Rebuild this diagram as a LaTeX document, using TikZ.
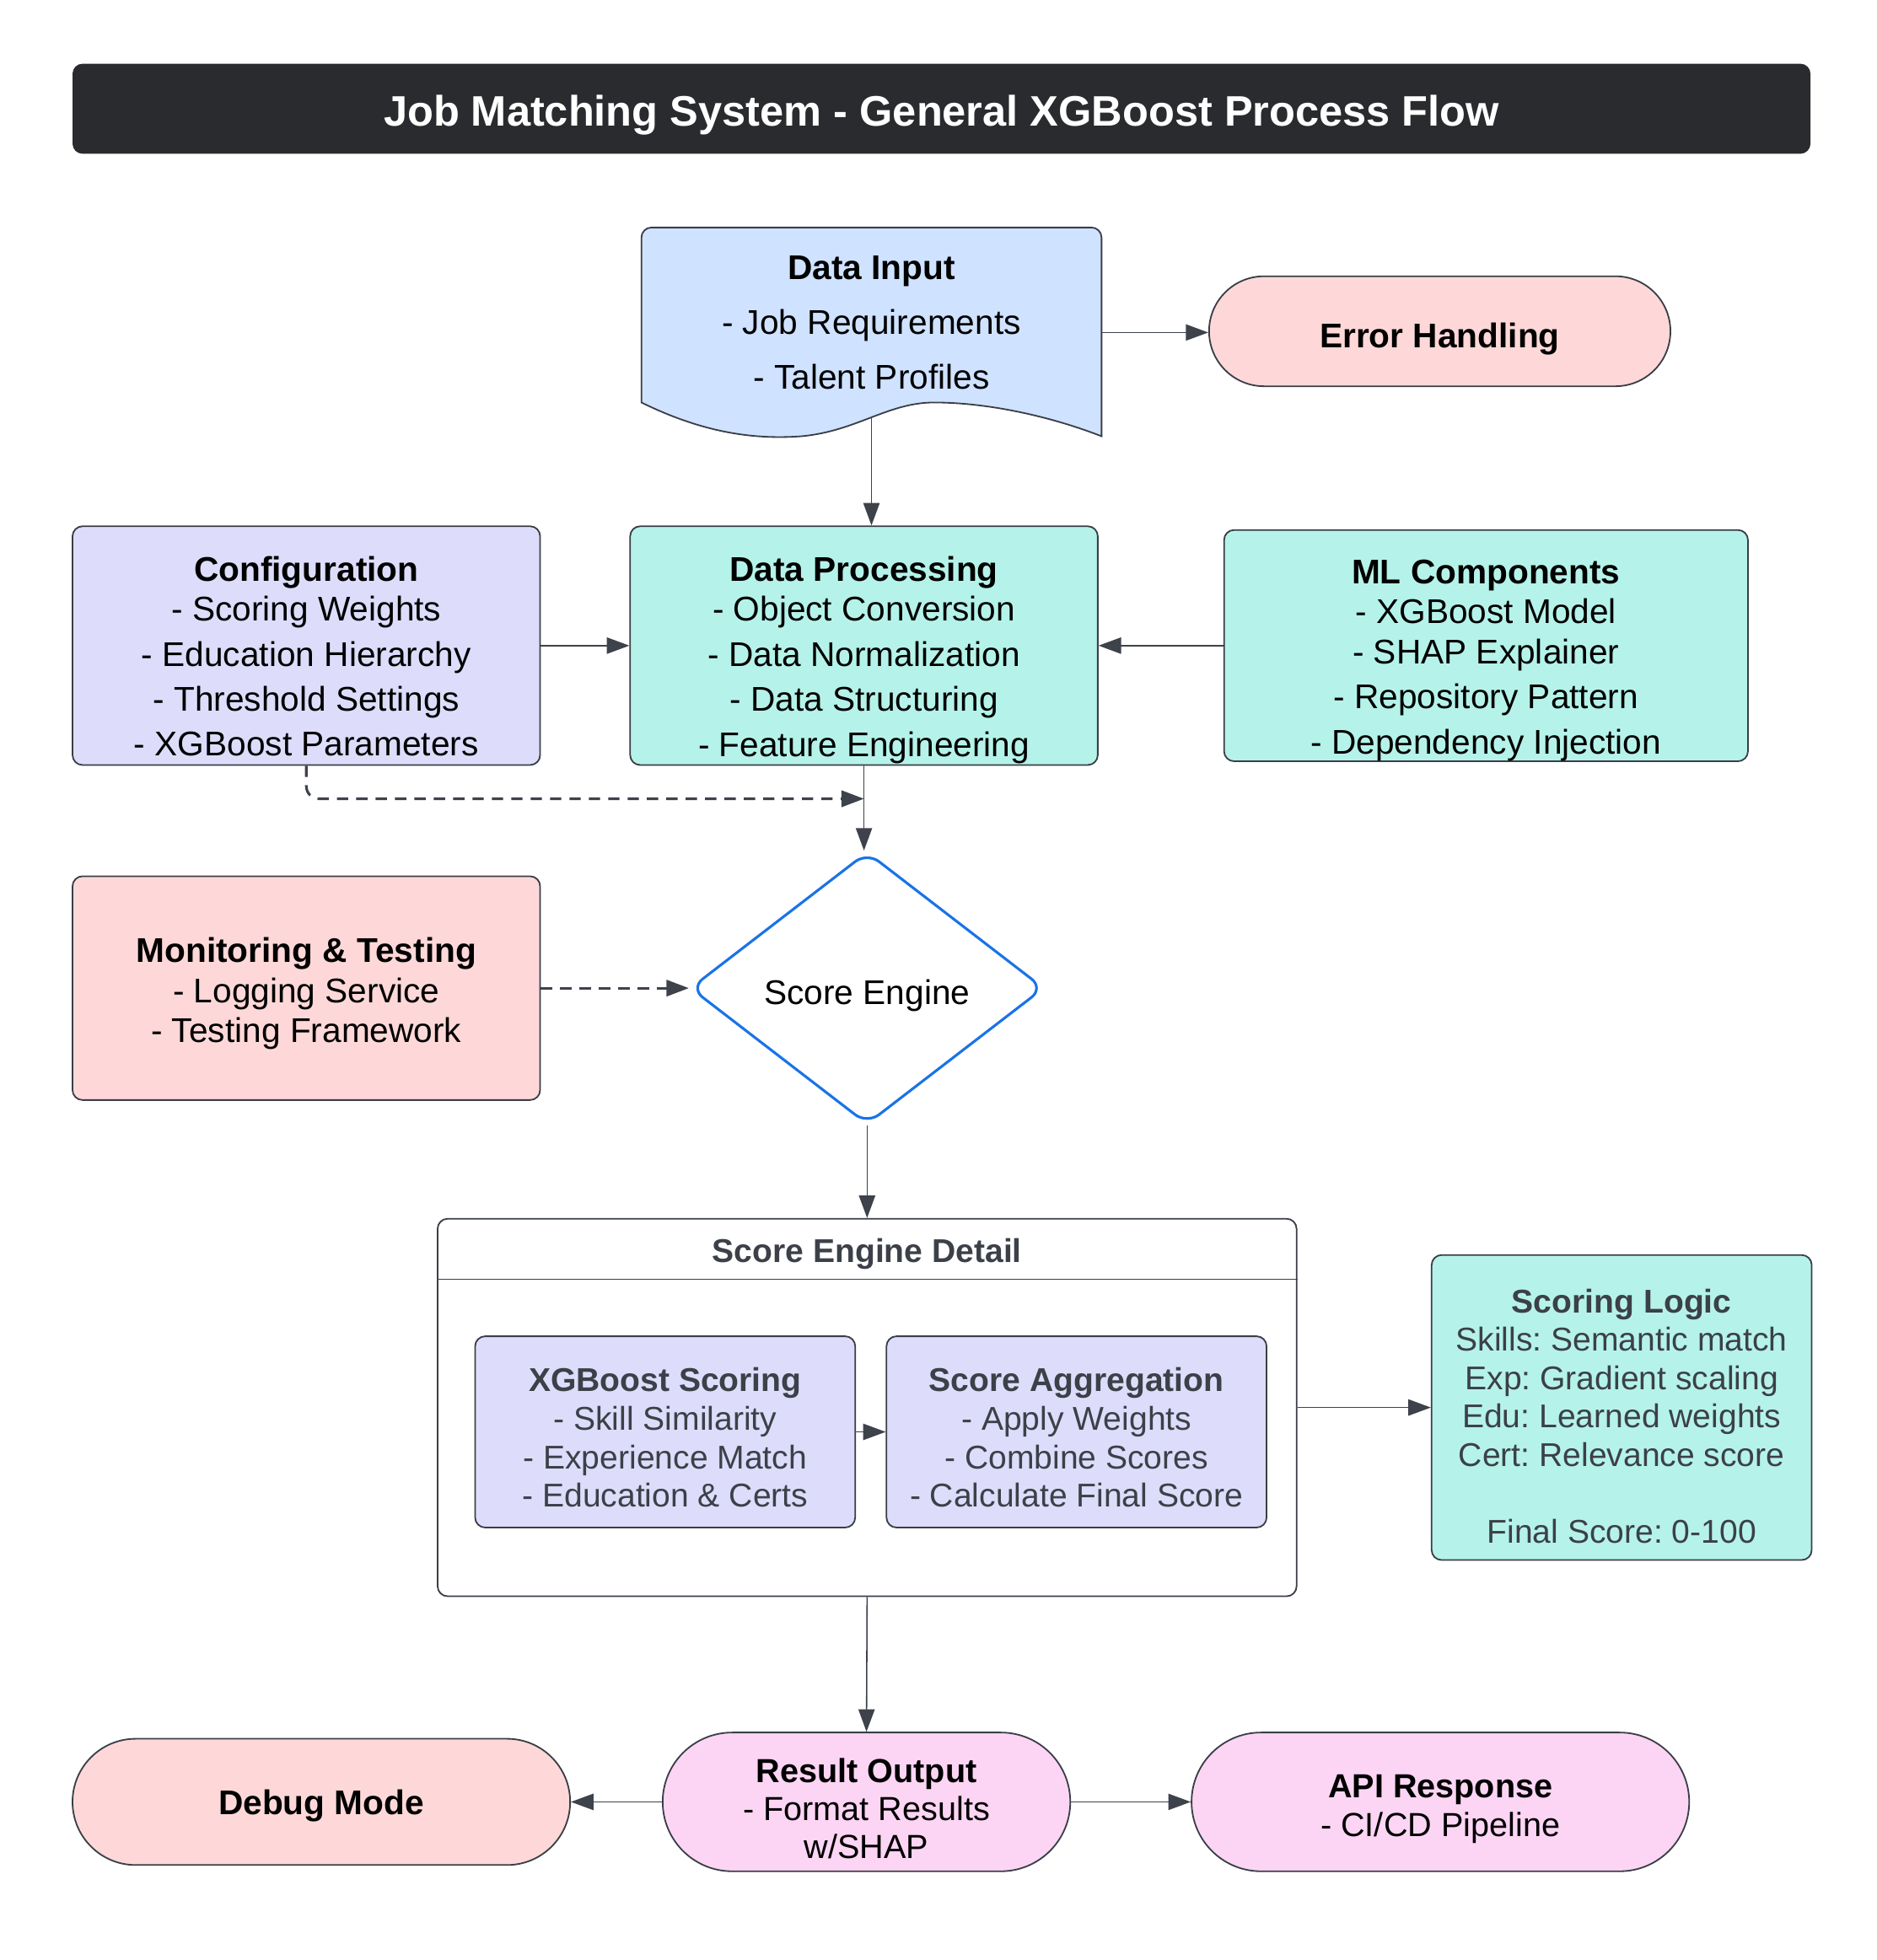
\documentclass[tikz,border=0pt]{standalone}
\usepackage{fontspec}
\setmainfont{Liberation Sans}
\usetikzlibrary{arrows.meta,calc,shapes.geometric,shapes.misc}
\definecolor{titleDark}{HTML}{2A2B2F}
\definecolor{lineDark}{HTML}{3A3E46}
\definecolor{arrowDark}{HTML}{3D424B}
\definecolor{inputBlue}{HTML}{CFE2FF}
\definecolor{configLilac}{HTML}{DDDDFB}
\definecolor{procAqua}{HTML}{B5F3EA}
\definecolor{errorRose}{HTML}{FED8D8}
\definecolor{outputPink}{HTML}{FCD5F4}
\definecolor{engineBlue}{HTML}{1A73E8}
\definecolor{detailGray}{HTML}{3C4048}
\newcommand{\liftText}[1]{\rule{0pt}{#1}}
\frenchspacing

\begin{document}
\begin{tikzpicture}[x=1cm,y=1cm,
  box/.style={draw=lineDark,line width=0.35pt,rounded corners=0.08cm,align=center,inner sep=0pt},
  pill/.style={rounded rectangle,draw=lineDark,line width=0.35pt,align=center,inner sep=0pt},
  flow/.style={draw=arrowDark,line width=0.3pt,-{Triangle[length=0.18cm,width=0.13cm]}},
  dflow/.style={flow,line width=0.6pt,dash pattern=on 0.09cm off 0.065cm},
  bodytxt/.style={font=\fontsize{7.8}{10.25}\selectfont},
  detailtxt/.style={font=\fontsize{7.5}{8.75}\selectfont,text=detailGray}]
\useasboundingbox (0,0) rectangle (15.01,-15.68);

% title bar
\node[fill=titleDark,rounded corners=0.08cm,minimum width=13.90cm,minimum height=0.72cm,text=white,font=\fontsize{9.7}{12}\selectfont\bfseries] (ttl) at (7.53,-0.87) {\liftText{10.1pt}Job Matching System - General XGBoost Process Flow};

% data input: document shape with wavy bottom
\draw[fill=inputBlue,draw=lineDark,line width=0.35pt] (5.13,-3.22) -- (5.13,-1.90) arc(180:90:0.08) -- (8.73,-1.82) arc(90:0:0.08) -- (8.81,-3.49)
  .. controls (8.40,-3.33) and (7.90,-3.22) .. (7.47,-3.22)
  .. controls (7.10,-3.22) and (6.85,-3.45) .. (6.41,-3.49)
  .. controls (6.00,-3.52) and (5.60,-3.45) .. (5.13,-3.22) -- cycle;
\node[align=center,font=\fontsize{7.8}{12.5}\selectfont] (din) at (6.97,-2.58) {\textbf{Data Input}\\ - Job Requirements\\ - Talent Profiles};
\coordinate (dinB) at (6.97,-3.34);
\coordinate (dinR) at (8.81,-2.66);

\node[pill,fill=errorRose,minimum width=3.69cm,minimum height=0.88cm,font=\fontsize{7.8}{10.25}\selectfont\bfseries] (err) at (11.515,-2.65) {\liftText{9pt}Error Handling};

% second row
\node[box,fill=configLilac,minimum width=3.74cm,minimum height=1.91cm,bodytxt] (cfg) at (2.45,-5.165) {\liftText{10.5pt}\textbf{Configuration}\\[-1.15pt] - Scoring Weights\\ - Education Hierarchy\\ - Threshold Settings\\ - XGBoost Parameters};
\node[box,fill=procAqua,minimum width=3.74cm,minimum height=1.91cm,bodytxt] (dp) at (6.91,-5.165) {\liftText{12.1pt}\textbf{Data Processing}\\[-1.15pt] - Object Conversion\\ - Data Normalization\\ - Data Structuring\\ - Feature Engineering};
\node[box,fill=procAqua,minimum width=4.19cm,minimum height=1.85cm,bodytxt] (ml) at (11.885,-5.165) {\liftText{12.1pt}\textbf{ML Components}\\[-1.15pt] - XGBoost Model\\[-1.15pt] - SHAP Explainer\\ - Repository Pattern\\ - Dependency Injection};
\coordinate (merge) at (6.91,-6.39);

% score engine
\node[diamond,draw=engineBlue,fill=white,line width=0.6pt,rounded corners=0.12cm,minimum width=2.83cm,minimum height=2.18cm,inner sep=0pt,bodytxt] (eng) at (6.935,-7.905) {\liftText{9pt}Score Engine};
\node[box,fill=errorRose,minimum width=3.74cm,minimum height=1.79cm,font=\fontsize{7.8}{9.1}\selectfont] (mon) at (2.45,-7.905) {\liftText{8.2pt}\textbf{Monitoring \& Testing}\\ - Logging Service\\ - Testing Framework};

% score engine detail group
\node[box,fill=white,minimum width=6.87cm,minimum height=3.02cm] (grp) at (6.935,-11.26) {};
\node[font=\fontsize{7.5}{8.75}\selectfont\bfseries,text=detailGray] (grpttl) at (6.935,-10.03) {Score Engine Detail};
\draw[draw=lineDark,line width=0.35pt] ($(grp.north west)+(0,-0.49)$) -- ($(grp.north east)+(0,-0.49)$);
\node[box,fill=configLilac,minimum width=3.04cm,minimum height=1.53cm,detailtxt] (xgb) at (5.32,-11.455) {\liftText{8pt}\textbf{XGBoost Scoring}\\ - Skill Similarity\\ - Experience Match\\ - Education \& Certs};
\node[box,fill=configLilac,minimum width=3.04cm,minimum height=1.53cm,detailtxt] (agg) at (8.61,-11.455) {\liftText{8pt}\textbf{Score Aggregation}\\ - Apply Weights\\ - Combine Scores\\ - Calculate Final Score};
\node[box,fill=procAqua,minimum width=3.04cm,minimum height=2.44cm,detailtxt] (logic) at (12.97,-11.26) {\liftText{9.4pt}\textbf{Scoring Logic}\\ Skills: Semantic match\\ Exp: Gradient scaling\\ Edu: Learned weights\\ Cert: Relevance score\\[8.75pt] Final Score: 0-100};

% outputs
\node[pill,fill=outputPink,minimum width=3.26cm,minimum height=1.11cm,font=\fontsize{7.6}{8.7}\selectfont] (res) at (6.93,-14.415) {\liftText{8.5pt}\textbf{Result Output}\\ - Format Results\\ w/SHAP};
\node[pill,fill=errorRose,minimum width=3.98cm,minimum height=1.01cm,font=\fontsize{7.8}{9}\selectfont\bfseries] (dbg) at (2.57,-14.415) {\liftText{7.6pt}Debug Mode};
\node[pill,fill=outputPink,minimum width=3.98cm,minimum height=1.11cm,font=\fontsize{7.6}{8.8}\selectfont] (api) at (11.52,-14.415) {\liftText{8.4pt}\textbf{API Response}\\ - CI/CD Pipeline};

% connectors
\draw[flow] (dinB) -- (dinB |- dp.north);
\draw[flow] (dinR) -- (dinR -| err.west);
\draw[flow] (cfg.east) -- (dp.west);
\draw[flow] (ml.west) -- (dp.east);
\draw[flow] (dp.south) -- (dp.south |- eng.north);
\draw[dflow,rounded corners=0.1cm] (cfg.south) |- (merge);
\draw[dflow] (mon.east) -- (eng.west);
\draw[flow] (eng.south) -- (grp.north);
\draw[flow] (xgb.east) -- (agg.west);
\draw[flow] (grp.east) -- (logic.west);
\draw[flow] (grp.south) -- (res.north);
\draw[flow] (res.west) -- (dbg.east);
\draw[flow] (res.east) -- (api.west);
\end{tikzpicture}
\end{document}
